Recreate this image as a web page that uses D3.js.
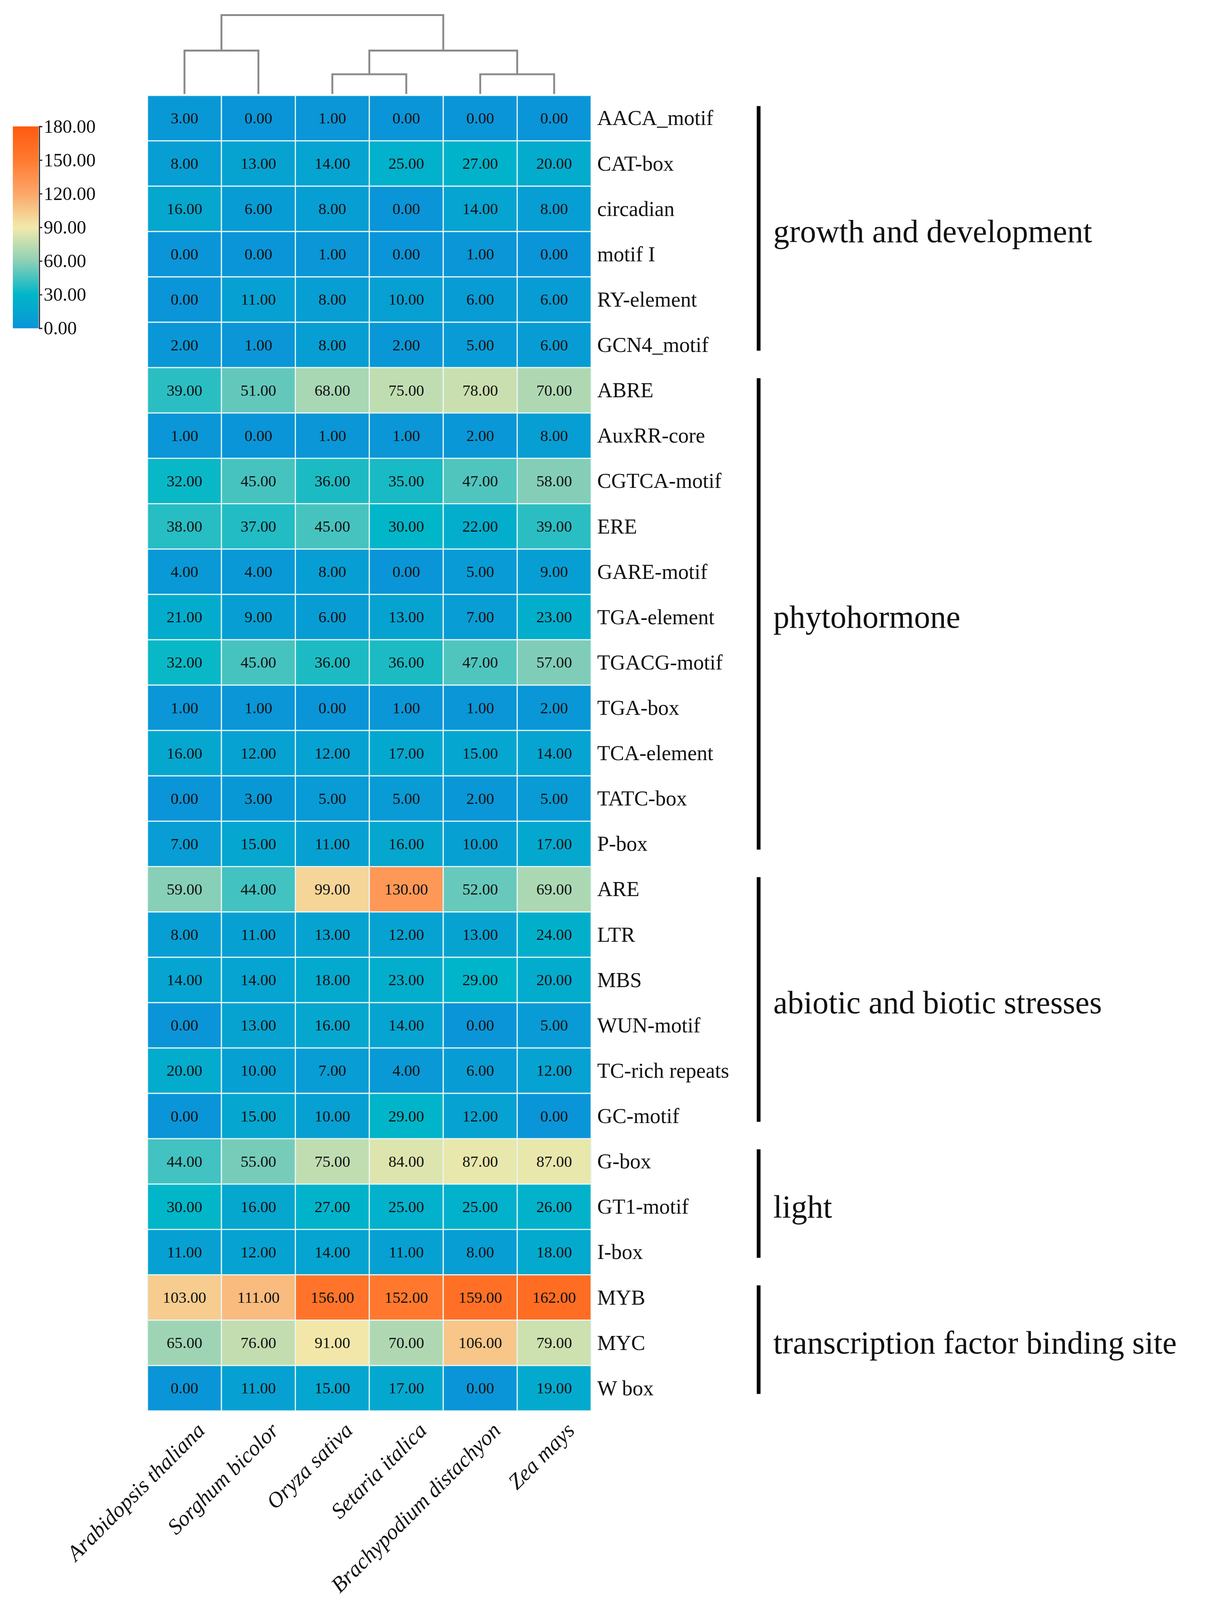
<!DOCTYPE html>
<html><head><meta charset="utf-8">
<script src="https://cdn.jsdelivr.net/npm/d3@7"></script>
<style>body{margin:0;background:#fff}</style></head>
<body><svg id="c" width="3142" height="4242"></svg>
<script>
const species = ["Arabidopsis thaliana","Sorghum bicolor","Oryza sativa","Setaria italica","Brachypodium distachyon","Zea mays"];
const motifs = ["AACA_motif","CAT-box","circadian","motif I","RY-element","GCN4_motif","ABRE","AuxRR-core","CGTCA-motif","ERE","GARE-motif","TGA-element","TGACG-motif","TGA-box","TCA-element","TATC-box","P-box","ARE","LTR","MBS","WUN-motif","TC-rich repeats","GC-motif","G-box","GT1-motif","I-box","MYB","MYC","W box"];
const values = [
[3,0,1,0,0,0],[8,13,14,25,27,20],[16,6,8,0,14,8],[0,0,1,0,1,0],[0,11,8,10,6,6],[2,1,8,2,5,6],
[39,51,68,75,78,70],[1,0,1,1,2,8],[32,45,36,35,47,58],[38,37,45,30,22,39],[4,4,8,0,5,9],[21,9,6,13,7,23],
[32,45,36,36,47,57],[1,1,0,1,1,2],[16,12,12,17,15,14],[0,3,5,5,2,5],[7,15,11,16,10,17],
[59,44,99,130,52,69],[8,11,13,12,13,24],[14,14,18,23,29,20],[0,13,16,14,0,5],[20,10,7,4,6,12],[0,15,10,29,12,0],
[44,55,75,84,87,87],[30,16,27,25,25,26],[11,12,14,11,8,18],
[103,111,156,152,159,162],[65,76,91,70,106,79],[0,11,15,17,0,19]];
const groups = [["growth and development",0,5],["phytohormone",6,16],["abiotic and biotic stresses",17,22],["light",23,25],["transcription factor binding site",26,28]];
const legendTicks = [0,30,60,90,120,150,180];
const colorStops = ["#0a95d8","#00b6c8","#8dd0b6","#f2e9ab","#fca76a","#ff7a30","#ff5a10"];
// dendrogram: [leftNode,rightNode,height]
const dendro = {l:{l:0,r:1,h:0.55},r:{l:{l:2,r:3,h:0.25},r:{l:4,r:5,h:0.25},h:0.55},h:1};

const root = d3.select("#c");
const svg = root.append("g").attr("transform","scale(0.966)");
const serif = "'Liberation Serif','Times New Roman',serif";
const x = d3.scaleBand().domain(d3.range(species.length)).range([391,1567]);
const y = d3.scaleBand().domain(d3.range(motifs.length)).range([253,3739]);
const color = d3.scaleLinear().domain(legendTicks).range(colorStops).clamp(true);

const cells = [];
values.forEach((r,i)=>r.forEach((v,j)=>cells.push({i,j,v})));
svg.append("g").selectAll("rect").data(cells).join("rect")
 .attr("x",d=>x(d.j)).attr("y",d=>y(d.i)).attr("width",x.bandwidth()).attr("height",y.bandwidth())
 .attr("fill",d=>color(d.v)).attr("stroke","#e8f6f6").attr("stroke-width",3);
svg.append("g").selectAll("text").data(cells).join("text")
 .attr("x",d=>x(d.j)+x.bandwidth()/2).attr("y",d=>y(d.i)+y.bandwidth()/2)
 .attr("text-anchor","middle").attr("dominant-baseline","central")
 .attr("font-family",serif).attr("font-size",42).attr("fill","#111")
 .text(d=>d.v.toFixed(2));

svg.append("g").selectAll("text").data(motifs).join("text")
 .attr("x",1583).attr("y",(d,i)=>y(i)+y.bandwidth()/2).attr("dominant-baseline","central")
 .attr("font-family",serif).attr("font-size",56).attr("fill","#111").text(d=>d);

svg.append("g").selectAll("text").data(species).join("text")
 .attr("transform",(d,i)=>`translate(${x(i)+x.bandwidth()/2+28},${3739+26}) rotate(-45)`)
 .attr("text-anchor","end").attr("dominant-baseline","hanging").attr("font-family",serif).attr("font-style","italic")
 .attr("font-size",58).attr("fill","#111").text(d=>d);

const gg = svg.append("g");
groups.forEach(([name,a,b])=>{
  const y0=y(a)+28, y1=y(b)+y.bandwidth()-45;
  gg.append("line").attr("x1",2011).attr("x2",2011).attr("y1",y0).attr("y2",y1).attr("stroke","#000").attr("stroke-width",10);
  gg.append("text").attr("x",2050).attr("y",(y(a)+y(b)+y.bandwidth())/2).attr("dominant-baseline","central")
   .attr("font-family",serif).attr("font-size",85).attr("fill","#111").text(name);
});

// dendrogram
const dh = d3.scaleLinear().domain([0,1]).range([249,40]);
const dg = svg.append("g").attr("fill","none").attr("stroke","#8a8a8a").attr("stroke-width",5);
function draw(n){
  if(typeof n==="number") return {xc:x(n)+x.bandwidth()/2,h:0};
  const a=draw(n.l), b=draw(n.r), yy=dh(n.h);
  dg.append("path").attr("d",`M${a.xc},${dh(a.h)}V${yy}H${b.xc}V${dh(b.h)}`);
  return {xc:(a.xc+b.xc)/2,h:n.h};
}
draw(dendro);

// legend
const ly = d3.scaleLinear().domain([0,180]).range([870,335]);
const defs = root.append("defs");
const grad = defs.append("linearGradient").attr("id","lg").attr("x1",0).attr("y1",1).attr("x2",0).attr("y2",0);
legendTicks.forEach((t,k)=>grad.append("stop").attr("offset",t/180).attr("stop-color",colorStops[k]));
svg.append("rect").attr("x",34).attr("y",335).attr("width",68).attr("height",535).attr("fill","url(#lg)");
const ax = svg.append("g").attr("transform","translate(104,0)")
 .call(d3.axisRight(ly).tickValues(legendTicks).tickFormat(d=>d.toFixed(2)).tickSize(8));
ax.select(".domain").attr("stroke","#222").attr("stroke-width",3);
ax.selectAll(".tick line").attr("stroke","#222").attr("stroke-width",3);
ax.selectAll("text").attr("font-family",serif).attr("font-size",50).attr("fill","#111").attr("x",12);
</script></body></html>
